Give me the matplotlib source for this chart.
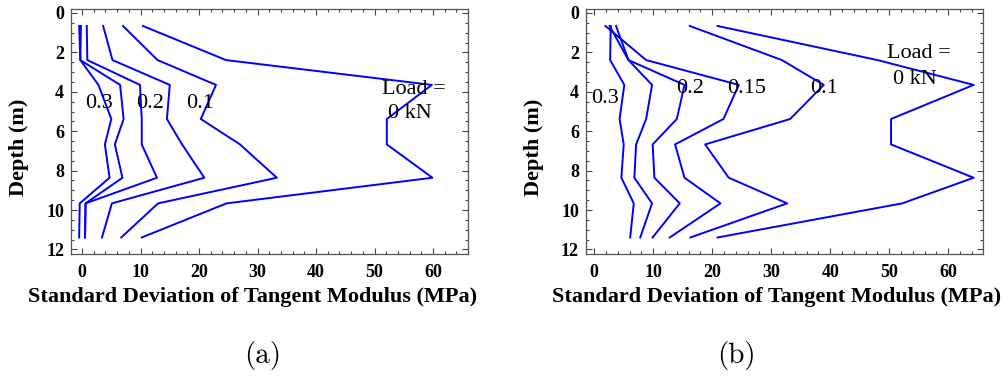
import matplotlib
matplotlib.use('Agg')
import matplotlib.pyplot as plt
from matplotlib.ticker import MultipleLocator

# depth of each measuring point (m)
depth = [0.66, 2.39, 3.65, 5.38, 6.67, 8.36, 9.66, 11.39]

# (a) std. dev. of tangent modulus (MPa), one list per load
a_0 = [10.4, 24.6, 59.8, 52.1, 52.1, 59.9, 24.7, 10.2]
a_01 = [7.0, 12.9, 22.9, 20.3, 27.0, 33.3, 13.0, 6.7]
a_015 = [3.6, 5.2, 15.0, 14.5, 17.1, 20.9, 5.1, 3.4]
a_02 = [0.8, 0.9, 9.9, 10.2, 10.2, 12.8, 0.6, 0.5]
a_025 = [-0.2, -0.3, 6.5, 7.1, 5.6, 6.9, 0.6, 0.5]
a_03 = [-0.5, -0.3, 2.8, 5.0, 3.9, 4.7, -0.4, -0.5]

# (b)
b_0 = [20.9, 48.0, 64.3, 50.3, 50.3, 64.3, 52.2, 20.9]
b_01 = [16.2, 31.8, 38.9, 33.2, 18.8, 22.8, 32.7, 16.3]
b_015 = [1.9, 8.8, 24.5, 21.9, 13.7, 15.3, 21.4, 12.8]
b_02 = [3.7, 5.8, 15.3, 14.0, 9.9, 10.2, 14.5, 9.9]
b_025 = [2.6, 5.8, 9.8, 8.8, 7.1, 6.8, 9.8, 7.8]
b_03 = [2.8, 2.7, 5.1, 4.3, 5.0, 4.6, 6.7, 6.1]

# curve labels: (text, x, depth)
labels_a = [('0.3', 2.9, 4.57), ('0.2', 11.6, 4.57), ('0.1', 20.2, 4.57),
            ('Load =', 56.8, 3.87), ('0 kN', 56.0, 5.09)]
labels_b = [('0.3', 1.9, 4.33), ('0.2', 16.2, 3.82), ('0.15', 25.8, 3.82),
            ('0.1', 39.0, 3.82), ('Load =', 55.1, 2.05), ('0 kN', 54.4, 3.4)]

serif = 'Liberation Serif'

fig = plt.figure(figsize=(10.08, 3.84), dpi=100)


def panel(rect, series, labels, xlim):
    ax = fig.add_axes(rect)
    for s in series:
        ax.plot(s, depth, color='#0000ff', lw=1.4)
    for t, x, y in labels:
        ax.text(x, y, t, family=serif, fontsize=16, ha='center', va='center')
    ax.set_xlim(*xlim)
    ax.set_ylim(12.23, -0.2)
    ax.xaxis.set_major_locator(MultipleLocator(10))
    ax.xaxis.set_minor_locator(MultipleLocator(2))
    ax.yaxis.set_major_locator(MultipleLocator(2))
    ax.yaxis.set_minor_locator(MultipleLocator(0.5))
    ax.tick_params(which='both', direction='in', top=True, right=True,
                   color='#444444', width=0.8)
    ax.tick_params(which='major', length=4)
    ax.tick_params(which='minor', length=2)
    ax.tick_params(axis='x', pad=7)
    ax.tick_params(axis='y', pad=5)
    for lab in ax.get_xticklabels() + ax.get_yticklabels():
        lab.set_family(serif)
        lab.set_fontweight('bold')
        lab.set_fontsize(13)
    for sp in ax.spines.values():
        sp.set_color('#555555')
        sp.set_linewidth(0.9)
    return ax


panel([0.0704, 0.3385, 0.394, 0.638], [a_0, a_01, a_015, a_02, a_025, a_03],
      labels_a, (-1.9, 66.0))
panel([0.5813, 0.3385, 0.394, 0.638], [b_0, b_01, b_015, b_02, b_025, b_03],
      labels_b, (-1.4, 65.9))

xlab = 'Standard Deviation of Tangent Modulus (MPa)'
fig.text(253 / 1008, 1 - 297 / 384, xlab, family=serif, fontweight='bold',
         fontsize=16, ha='center', va='center')
fig.text(777 / 1008, 1 - 297 / 384, xlab, family=serif, fontweight='bold',
         fontsize=16, ha='center', va='center')
fig.text(19 / 1008, 1 - 147.5 / 384, 'Depth (m)', family=serif, fontweight='bold',
         fontsize=16, ha='center', va='center', rotation=90)
fig.text(534 / 1008, 1 - 147.5 / 384, 'Depth (m)', family=serif, fontweight='bold',
         fontsize=16, ha='center', va='center', rotation=90)

fig.text(263 / 1008, 1 - 356 / 384, '(a)', family='cmr10', fontsize=21,
         ha='center', va='center')
fig.text(736 / 1008, 1 - 356 / 384, '(b)', family='cmr10', fontsize=21,
         ha='center', va='center')

fig.savefig('out.png', dpi=100)
